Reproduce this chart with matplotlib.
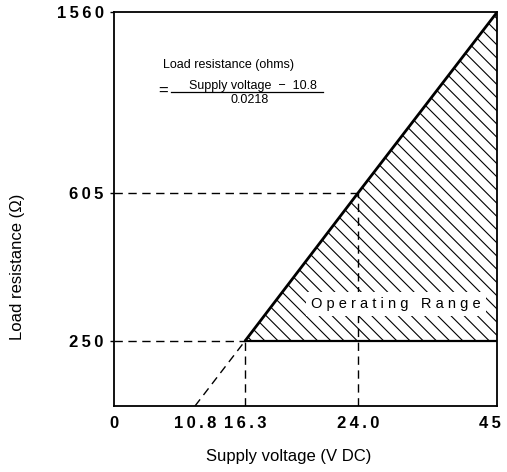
import numpy as np
import matplotlib
matplotlib.use("Agg")
import matplotlib.pyplot as plt
from matplotlib.transforms import ScaledTranslation
from matplotlib.collections import LineCollection

# ---------------- data ----------------
x_tick_values = [0, 10.8, 16.3, 24.0, 45]
x_tick_labels = ["0", "10.8", "16.3", "24.0", "45"]
y_scale_values = [0, 250, 605, 1560]
y_tick_values = [250, 605, 1560]
y_tick_labels = ["250", "605", "1560"]

v_zero = 10.8          # supply voltage where load resistance = 0
v_min, r_min = 16.3, 250
v_ref, r_ref = 24.0, 605
v_max, r_max = 45.0, 1560

# ---------------- layout (schematic, non-linear axis spacing) ----------------
x_pos = [113.5, 195, 245, 358, 497]       # pixel positions of x ticks
y_pos = [0, 65, 213, 393.7]               # pixel heights of y ticks above the x axis

def fx(v):
    return np.interp(v, x_tick_values, x_pos)

def fx_inv(p):
    return np.interp(p, x_pos, x_tick_values)

def fy(v):
    return np.interp(v, y_scale_values, y_pos)

def fy_inv(p):
    return np.interp(p, y_pos, y_scale_values)

def spaced(s):
    return "\u2009".join(s)

plt.rcParams['font.family'] = ['Liberation Sans', 'DejaVu Sans']

W, H = 5.07, 4.72
fig = plt.figure(figsize=(W, H), dpi=100)
ax = fig.add_axes([113.5 / 507, 1 - 406 / 472, 383.5 / 507, 393.7 / 472])
ax.set_xscale('function', functions=(fx, fx_inv))
ax.set_yscale('function', functions=(fy, fy_inv))
ax.set_xlim(0, v_max)
ax.set_ylim(0, r_max)

# operating range region with diagonal hatching clipped to it
region = ax.fill([v_min, v_max, v_max], [r_min, r_min, r_max], facecolor='white',
                 edgecolor='none', linewidth=0, zorder=1)[0]
step = 0.132  # inches between hatch lines (horizontal)
offsets = np.arange(0, W + H + step, step)
segs = [[(c, 0), (c - H - 1, H + 1)] for c in offsets]
hatch = LineCollection(segs, colors='black', linewidths=0.8,
                       transform=fig.dpi_scale_trans, zorder=1.5)
ax.add_collection(hatch, autolim=False)
hatch.set_clip_path(region)

dash = (0, (6, 4))
lw_d = 1.0
# dashed helper lines
ax.plot([0, v_min], [r_min, r_min], color='black', lw=lw_d, ls=dash, zorder=2)
ax.plot([v_min, v_min], [0, r_min], color='black', lw=lw_d, ls=dash, zorder=2)
ax.plot([0, v_ref], [r_ref, r_ref], color='black', lw=lw_d, ls=dash, zorder=2)
ax.plot([v_ref, v_ref], [0, r_ref], color='black', lw=lw_d, ls=dash, zorder=2)
ax.plot([v_zero, v_min], [0, r_min], color='black', lw=lw_d, ls=dash, zorder=2)

# solid boundaries
ax.plot([v_min, v_ref, v_max], [r_min, r_ref, r_max], color='black', lw=2.0,
        solid_capstyle='butt', zorder=4)
ax.plot([v_min, v_max], [r_min, r_min], color='black', lw=1.6, zorder=4)

# operating range label
ax.text((396 - 113.5) / 383.5, (406 - 304) / 393.7,
        "O p e r a t i n g   R a n g e", transform=ax.transAxes,
        ha='center', va='center', fontsize=10.5, zorder=5,
        bbox=dict(facecolor='white', edgecolor='none', pad=3.5))

# formula annotation
def axc(px, py):
    return ((px - 113.5) / 383.5, (406 - py) / 393.7)

ax.text(*axc(163, 65), "Load resistance (ohms)", transform=ax.transAxes,
        ha='left', va='center', fontsize=9, zorder=5)
ax.text(*axc(253, 86), "Supply voltage  \u2212  10.8", transform=ax.transAxes,
        ha='center', va='center', fontsize=9, zorder=5)
ax.text(*axc(250, 100), "0.0218", transform=ax.transAxes,
        ha='center', va='center', fontsize=9, zorder=5)
ax.text(*axc(163, 91), "=", transform=ax.transAxes,
        ha='center', va='center', fontsize=12, zorder=5)
x0, y0 = axc(171, 92)
x1, _ = axc(323, 92)
ax.plot([x0, x1], [y0, y0], transform=ax.transAxes, color='black', lw=0.9,
        zorder=5)

# ticks
ax.set_xticks(x_tick_values)
ax.set_xticklabels([spaced(s) for s in x_tick_labels])
ax.set_yticks(y_tick_values)
ax.set_yticklabels([spaced(s) for s in y_tick_labels])
ax.xaxis.set_minor_locator(matplotlib.ticker.NullLocator())
ax.yaxis.set_minor_locator(matplotlib.ticker.NullLocator())
ax.tick_params(axis='x', length=0, pad=7, labelsize=12)
ax.tick_params(axis='y', length=3, width=1, direction='out', pad=4, labelsize=12)
for lab in ax.get_xticklabels() + ax.get_yticklabels():
    lab.set_fontweight('bold')

for s in ax.spines.values():
    s.set_linewidth(1.3)

ax.set_xlabel("Supply voltage (V DC)", fontsize=12)
ax.xaxis.set_label_coords((289 - 113.5) / 383.5, (406 - 449) / 393.7)
ax.set_ylabel("Load resistance (\u03a9)", fontsize=12)
ax.yaxis.set_label_coords((25 - 113.5) / 383.5, (406 - 267) / 393.7)

# shift the last x tick label slightly left, as in the reference
last = ax.xaxis.get_major_ticks()[-1].label1
last.set_transform(last.get_transform() + ScaledTranslation(-7 / 100, 0, fig.dpi_scale_trans))

fig.savefig("out.png", dpi=100)
